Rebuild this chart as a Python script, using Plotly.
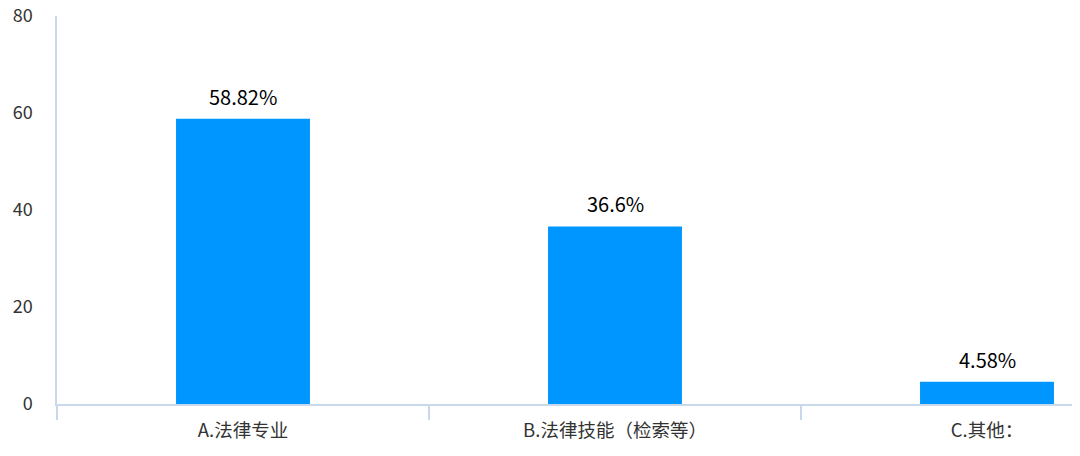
import plotly.graph_objects as go

categories = ["A.法律专业", "B.法律技能（检索等）", "C.其他："]
percentages = [58.82, 36.6, 4.58]
y_ticks = [0, 20, 40, 60, 80]

axis_color = "#C9D8EA"
font_name = "Noto Sans CJK SC, Microsoft YaHei, sans-serif"

fig = go.Figure(
    go.Bar(
        x=categories,
        y=percentages,
        width=0.36,
        marker=dict(color="#0096FF", line=dict(width=0)),
        hoverinfo="x+y",
    )
)

# value labels above each bar
for cat, val in zip(categories, percentages):
    fig.add_annotation(
        x=cat, y=val, text=f"{val}%",
        showarrow=False, yanchor="bottom", yshift=6,
        font=dict(size=20, color="#000000", family=font_name),
    )

# page body adds ~8px offset, so margins are shifted to compensate
fig.update_layout(
    width=1080,
    height=456,
    margin=dict(l=49, r=8, t=8, b=60),
    plot_bgcolor="white",
    paper_bgcolor="white",
    showlegend=False,
    font=dict(family=font_name),
)

fig.update_xaxes(
    range=[-0.5, 2.25],
    automargin=False,
    showline=True,
    linecolor=axis_color,
    linewidth=1.5,
    ticks="outside",
    tickson="boundaries",
    ticklen=14,
    tickcolor=axis_color,
    tickwidth=1.5,
    showgrid=False,
    ticklabelstandoff=9,
    tickfont=dict(size=18.5, color="#333333"),
)

fig.update_yaxes(
    range=[0, 80],
    automargin=False,
    tickvals=y_ticks,
    showline=True,
    linecolor=axis_color,
    linewidth=1.5,
    showgrid=False,
    zeroline=False,
    ticks="",
    ticklabelstandoff=19,
    ticklabeloverflow="allow",
    tickfont=dict(size=18, color="#333333"),
)

fig.write_html("out.html")
